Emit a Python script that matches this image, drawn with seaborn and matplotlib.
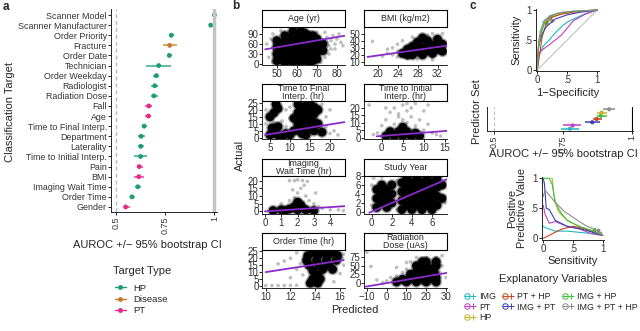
import matplotlib
matplotlib.use('Agg')
import matplotlib.pyplot as plt
from matplotlib.lines import Line2D
from matplotlib.legend_handler import HandlerTuple
import seaborn as sns
import numpy as np
import pandas as pd

W, H = 640, 331

# ---------------- panel a: single-target AUROC ----------------
targets = ['Scanner Model', 'Scanner Manufacturer', 'Order Priority', 'Fracture',
           'Order Date', 'Technician', 'Order Weekday', 'Radiologist', 'Radiation Dose',
           'Fall', 'Age', 'Time to Final Interp.', 'Department', 'Laterality',
           'Time to Initial Interp.', 'Pain', 'BMI', 'Imaging Wait Time', 'Order Time',
           'Gender']
target_type = ['HP', 'HP', 'HP', 'Disease', 'HP', 'HP', 'HP', 'HP', 'HP', 'PT', 'PT',
               'HP', 'HP', 'HP', 'HP', 'PT', 'PT', 'HP', 'HP', 'PT']
auroc = [1.0, 0.981, 0.781, 0.773, 0.771, 0.717, 0.705, 0.697, 0.693, 0.667, 0.665,
         0.643, 0.628, 0.626, 0.625, 0.618, 0.616, 0.611, 0.581, 0.549]
auroc_lo = [0.998, 0.978, 0.769, 0.739, 0.763, 0.653, 0.690, 0.680, 0.676, 0.650, 0.650,
            0.633, 0.611, 0.613, 0.592, 0.605, 0.592, 0.596, 0.571, 0.540]
auroc_hi = [1.0, 0.984, 0.793, 0.810, 0.785, 0.781, 0.720, 0.716, 0.712, 0.684, 0.680,
            0.658, 0.648, 0.642, 0.660, 0.636, 0.640, 0.628, 0.598, 0.570]
type_colors = {'HP': '#1B9E77', 'Disease': '#C47A2C', 'PT': '#E7298A'}

# ---------------- panel b: actual vs predicted ----------------
facet_titles = ['Age (yr)', 'BMI (kg/m2)', 'Time to Final\nInterp. (hr)',
                'Time to Initial\nInterp. (hr)', 'Imaging\nWait Time (hr)', 'Study Year',
                'Order Time (hr)', 'Radiation\nDose (uAs)']

age_core = [(50, 10), (50, 30), (50, 50), (50, 70), (54, 5), (54, 25), (54, 45), (54, 65),
            (54, 85), (58, 5), (58, 25), (58, 45), (58, 65), (58, 85), (58, 98), (62, 5),
            (62, 25), (62, 45), (62, 65), (62, 85), (62, 98), (66, 5), (66, 25), (66, 45),
            (66, 65), (66, 85), (70, 15), (70, 35), (70, 55), (70, 75), (73, 40), (73, 60),
            (52, 15), (52, 40), (52, 60), (56, 15), (56, 35), (56, 55), (56, 75), (60, 15),
            (60, 35), (60, 55), (60, 75), (60, 92), (64, 15), (64, 35), (64, 55), (64, 75),
            (64, 92), (68, 10), (68, 30), (68, 50), (68, 70), (68, 85)]
age_sparse = [(45, 60), (46, 20), (47, 75), (48, 90), (48, 5), (75, 80), (76, 55), (77, 70),
              (78, 85), (79, 60), (80, 75), (81, 90), (82, 65), (83, 55), (76, 30), (74, 95),
              (52, 100), (57, 105), (64, 102), (70, 95), (79, 45), (72, 5), (75, 65),
              (77, 45), (74, 20)]
bmi_core = [(25, 22), (26, 28), (27, 20), (27, 32), (28, 25), (28, 38), (29, 20), (29, 30),
            (30, 26), (30, 40), (31, 22), (31, 33), (32, 28), (32, 42), (33, 25), (33, 35),
            (26, 20), (29, 44), (27, 26), (28, 31), (30, 34), (31, 28), (32, 36), (29, 24)]
bmi_sparse = [(19, 39), (21, 18), (22, 22), (22, 28), (23, 20), (23, 30), (24, 25), (24, 35),
              (25, 40), (27, 45), (30, 48), (31, 50), (33, 50), (26, 15), (28, 14), (31, 13),
              (24, 17)]
final_core = [(5, 2), (6, 4), (7, 2), (5.5, 7), (7, 8), (6, 18), (7, 21), (6.5, 24), (5, 15),
              (11, 5), (12, 10), (12, 18), (13, 3), (13, 14), (13, 22), (14, 7), (14, 18),
              (15, 12), (15, 24), (16, 5), (16, 17), (17, 10), (17, 20), (14, 2), (18, 4),
              (12, 24), (10, 2), (9, 3), (8, 1), (11, 14), (12, 6), (13, 9), (14, 12),
              (14, 23), (15, 7), (15, 18), (16, 11), (16, 22), (13, 18)]
final_sparse = [(4, 10), (4, 20), (8, 12), (9, 20), (9, 8), (10, 22), (19, 8), (19, 15),
                (20, 3), (21, 5), (22, 2), (18, 24), (10, 14), (20, 20), (6, 11)]
initial_core = [(1, 1), (3, 1), (5, 1), (7, 1), (9, 1), (2, 4), (4, 4), (6, 4), (8, 3), (5, 7)]
initial_sparse = [(-3, 22), (-2, 2), (-1, 3), (0, 8), (1, 12), (2, 17), (3, 20), (3, 9),
                  (4, 14), (5, 22), (5, 12), (6, 18), (6, 10), (7, 20), (7, 14), (8, 8),
                  (9, 12), (10, 18), (10, 5), (11, 9), (12, 3), (13, 2), (14, 1), (8, 23),
                  (11, 22), (4, 16), (6, 23), (1, 20)]
wait_core = [(0.5, 0.5), (1, 1), (1.5, 1.5), (2, 1), (2.5, 1), (3, 0.5), (1.8, 3), (2.2, 4),
             (2, 6), (1.2, 0.3)]
wait_sparse = [(1.5, 20), (1.8, 20), (2, 20.5), (2.3, 20), (2.6, 19.5), (2.2, 15), (2, 12),
               (1.8, 9), (2.5, 10), (2.7, 7), (1.5, 7), (3, 5), (3.3, 3), (3.5, 2), (4, 1),
               (4.5, 1), (4.8, 0.5), (1, 5), (2.4, 17), (3.1, 12), (1.7, 14)]
year_core = [(0.5, 1), (0.5, 3), (0.5, 5), (1, 2), (1, 4), (1, 6), (1.5, 1), (1.5, 3),
             (1.5, 5), (2, 2), (2, 4), (2, 6), (3, 0.5), (3, 2.5), (3, 4.5), (3, 6.5),
             (3.5, 1.5), (3.5, 3.5), (3.5, 5.5), (3.5, 7.5), (4, 0.5), (4, 2.5), (4, 4.5),
             (4, 6.5), (4.5, 1.5), (4.5, 3.5), (4.5, 5.5), (4.5, 7.5), (5, 0.5), (5, 2.5),
             (5, 4.5), (5, 6.5), (5.5, 1.5), (5.5, 3.5), (5.5, 5.5), (5.5, 7.5), (6, 0.5),
             (6, 2.5), (6, 4.5), (6, 6.5), (6.5, 1.5), (6.5, 3.5), (6.5, 5.5), (6.5, 7.5),
             (7, 3), (7, 6)]
year_sparse = [(0, 1.5), (0, 6), (0.2, 7.5), (1, 7.8), (2.5, 7), (2.5, 0.5), (7.3, 2)]
order_core = [(13.6, 2), (13.8, 5), (14.2, 2), (14.2, 8), (13.8, 11), (14.6, 12), (13.5, 15),
              (14.3, 15), (15.1, 15), (13.3, 18.5), (14.1, 18.5), (14.9, 18.5), (15.7, 18.5),
              (13.4, 22), (14.2, 22), (15, 22), (15.8, 22), (13.8, 24.5), (14.6, 24.5),
              (15.4, 24.5), (15.4, 12), (14.4, 5)]
order_sparse = [(10, 0.3), (10.5, 0.3), (11, 0.3), (11.5, 0.3), (12, 0.3), (12.5, 0.5),
                (11, 16), (11.5, 18), (12, 20), (12.5, 12), (16.2, 20), (16.3, 15),
                (16.3, 23), (16, 9), (12.5, 24), (12.8, 16), (15.5, 3), (13, 8), (12, 6)]
dose_core = [(5, 2), (10, 2), (15, 2), (20, 2), (25, 2), (8, 10), (12, 12), (15, 18),
             (18, 10), (20, 20), (22, 12), (25, 15), (15, 30), (20, 35), (12, 25), (18, 28),
             (24, 30), (22, 40), (18, 45), (15, 50), (20, 50), (25, 50), (20, 62), (25, 62),
             (18, 62)]
dose_sparse = [(-10, 90), (-8, 48), (-5, 8), (0, 5), (2, 15), (5, 20), (8, 30), (10, 40),
               (5, 45), (12, 62), (15, 75), (20, 75), (25, 75), (28, 80), (30, 15), (27, 30),
               (10, 60), (28, 50), (-2, 0)]

# fitted line end points (predicted, actual)
fit_lines = [[(44.2, 44), (84, 85)], [(18, 17), (33.9, 33)], [(3.75, 2), (23.7, 11.3)],
             [(-1.2, 0.8), (15.5, 4.5)], [(0, 0), (4.9, 3.4)], [(-0.24, -0.16), (7.5, 7.3)],
             [(10, 10), (16.3, 18.7)], [(-10.6, -12), (30.5, 29)]]

facet_core = [age_core, bmi_core, final_core, initial_core, wait_core, year_core,
              order_core, dose_core]
facet_sparse = [age_sparse, bmi_sparse, final_sparse, initial_sparse, wait_sparse,
                year_sparse, order_sparse, dose_sparse]
facet_xticks = [[50, 60, 70, 80], [20, 24, 28, 32], [5, 10, 15, 20], [0, 5, 10, 15],
                [0, 1, 2, 3, 4], [0, 2, 4, 6], [10, 12, 14, 16], [-10, 0, 10, 20, 30]]
facet_yticks = [[0, 30, 60, 90], [10, 20, 30, 40, 50], [0, 5, 10, 15, 20, 25],
                [0, 5, 10, 15, 20], [0, 5, 10, 15, 20], [0, 2, 4, 6, 8],
                [0, 5, 10, 15, 20, 25], [0, 25, 50, 75]]
facet_xlim = [(42.6, 84), (17.3, 33.9), (3, 23.75), (-4.2, 15.5), (-0.18, 4.9),
              (-0.77, 7.5), (9.7, 16.4), (-11.5, 30.5)]
facet_ylim = [(-3, 111), (5.6, 59.4), (-0.9, 26.4), (-1, 24.7), (-1.7, 23), (-0.46, 8),
              (-1.5, 26), (-16, 97)]

# ---------------- panel c: predictor sets ----------------
pred_sets = ['IMG', 'PT', 'HP', 'PT + HP', 'IMG + PT', 'IMG + HP', 'IMG + PT + HP']
set_colors = {'IMG': '#1FB8BE', 'PT': '#C23FC2', 'HP': '#C7B42C', 'PT + HP': '#C9441F',
              'IMG + PT': '#3E3EB4', 'IMG + HP': '#37C23A', 'IMG + PT + HP': '#8C8C8C'}
# forest rows bottom -> top
forest_order = ['IMG', 'PT', 'IMG + PT', 'PT + HP', 'IMG + HP', 'HP', 'IMG + PT + HP']
set_auroc = [0.775, 0.785, 0.856, 0.872, 0.887, 0.890, 0.917]
set_lo = [0.744, 0.750, 0.830, 0.858, 0.872, 0.873, 0.896]
set_hi = [0.808, 0.815, 0.885, 0.890, 0.909, 0.909, 0.938]

roc_fpr = {
    'IMG': [0, 0.01, 0.05, 0.1, 0.2, 0.3, 0.4, 0.5, 0.65, 0.8, 1],
    'PT': [0, 0.01, 0.05, 0.1, 0.2, 0.3, 0.4, 0.5, 0.6, 0.8, 1],
    'HP': [0, 0.01, 0.05, 0.1, 0.2, 0.35, 0.6, 1],
    'PT + HP': [0, 0.03, 0.08, 0.15, 0.25, 0.4, 0.7, 1],
    'IMG + PT': [0, 0.02, 0.08, 0.15, 0.3, 0.5, 0.7, 1],
    'IMG + HP': [0, 0.02, 0.06, 0.12, 0.2, 0.35, 0.6, 1],
    'IMG + PT + HP': [0, 0.02, 0.05, 0.1, 0.15, 0.25, 0.4, 0.6, 1]}
roc_tpr = {
    'IMG': [0, 0.2, 0.3, 0.4, 0.5, 0.62, 0.72, 0.8, 0.87, 0.94, 1],
    'PT': [0, 0.25, 0.3, 0.35, 0.42, 0.5, 0.58, 0.7, 0.82, 0.93, 1],
    'HP': [0, 0.3, 0.6, 0.75, 0.87, 0.93, 0.97, 1],
    'PT + HP': [0, 0.2, 0.55, 0.78, 0.88, 0.93, 0.98, 1],
    'IMG + PT': [0, 0.4, 0.6, 0.72, 0.85, 0.92, 0.96, 1],
    'IMG + HP': [0, 0.35, 0.6, 0.78, 0.88, 0.95, 0.98, 1],
    'IMG + PT + HP': [0, 0.45, 0.65, 0.78, 0.85, 0.92, 0.96, 0.98, 1]}
ppv_sens = {
    'IMG': [0, 0.05, 0.2, 0.4, 0.6, 0.8, 1],
    'PT': [0, 0.03, 0.1, 0.2, 0.4, 0.6, 0.8, 1],
    'HP': [0.13, 0.15, 0.18, 0.25, 0.4, 0.6, 0.8, 1],
    'PT + HP': [0, 0.1, 0.3, 0.5, 0.7, 0.9, 1],
    'IMG + PT': [0, 0.02, 0.05, 0.1, 0.2, 0.4, 0.7, 1],
    'IMG + HP': [0, 0.1, 0.15, 0.2, 0.3, 0.4, 0.6, 0.85, 1],
    'IMG + PT + HP': [0, 0.03, 0.1, 0.2, 0.35, 0.5, 0.7, 0.9, 1]}
ppv_val = {
    'IMG': [0.2, 0.17, 0.12, 0.12, 0.1, 0.08, 0.05],
    'PT': [0.55, 0.4, 0.25, 0.28, 0.2, 0.16, 0.08, 0.05],
    'HP': [1, 1, 0.7, 0.45, 0.3, 0.2, 0.12, 0.05],
    'PT + HP': [0, 0.05, 0.15, 0.2, 0.16, 0.1, 0.05],
    'IMG + PT': [1, 0.9, 0.5, 0.48, 0.3, 0.2, 0.14, 0.05],
    'IMG + HP': [1, 1, 0.9, 0.6, 0.42, 0.3, 0.2, 0.12, 0.05],
    'IMG + PT + HP': [0.7, 0.8, 0.72, 0.6, 0.45, 0.35, 0.22, 0.13, 0.05]}
# operating points
roc_op_x = [0.12, 0.15, 0.18, 0.2, 0.22, 0.16, 0.25]
roc_op_y = [0.8, 0.83, 0.85, 0.87, 0.88, 0.78, 0.82]
ppv_op_x = [0.85, 0.88, 0.9, 0.92, 0.95, 0.87, 0.93]
ppv_op_y = [0.1, 0.12, 0.08, 0.11, 0.09, 0.14, 0.13]

# ---------------- style ----------------
sns.set_style('ticks')
plt.rcParams['font.family'] = ['Liberation Sans', 'DejaVu Sans']
plt.rcParams['axes.linewidth'] = 0.7
TICK = '#333333'


def px_axes(fig, l, t, r, b):
    return fig.add_axes([l / W, 1 - b / H, (r - l) / W, (b - t) / H])


def style_ax(ax, size=6.3):
    sns.despine(ax=ax)
    ax.tick_params(length=2, width=0.6, pad=1, labelsize=size, colors='black',
                   labelcolor=TICK)


fig = plt.figure(figsize=(W / 100, H / 100), dpi=100)

# ---- panel a
ax = px_axes(fig, 111, 9, 217, 212)
ypos = np.arange(len(targets))
df_a = pd.DataFrame({'y': ypos, 'auroc': auroc, 'type': target_type})
ax.axvline(0.5, color='#BBBBBB', ls=(0, (3, 2)), lw=1)
ax.axvline(1.0, color='#C4C4C4', lw=2.5)
for i in ypos:
    ax.hlines(i, auroc_lo[i], auroc_hi[i], color=type_colors[target_type[i]], lw=1.3, alpha=0.75)
sns.scatterplot(data=df_a, x='auroc', y='y', hue='type', palette=type_colors, s=12,
                edgecolor='none', legend=False, ax=ax)
ax.set_xlim(0.475, 1.013)
ax.set_ylim(19.5, -0.6)
ax.set_yticks(ypos)
ax.set_yticklabels(targets)
ax.set_xticks([0.5, 0.75, 1])
ax.set_xticklabels(['0.5', '0.75', '1'], rotation=90)
ax.set_xlabel('')
ax.set_ylabel('')
style_ax(ax, 6.4)
fig.text(10 / W, 1 - 112 / H, 'Classification Target', rotation=90, ha='center',
         va='center', fontsize=8)
fig.text(147 / W, 1 - 245 / H, 'AUROC +/\u2212 95% bootstrap CI', ha='center', va='center',
         fontsize=8)
fig.text(3 / W, 1 - 7 / H, 'a', fontsize=8.5, fontweight='bold', va='center')

fig.text(142 / W, 1 - 271 / H, 'Target Type', ha='center', va='center', fontsize=8)
h_a = [Line2D([], [], color=type_colors[t], marker='o', markersize=2.5, lw=1)
       for t in ['HP', 'Disease', 'PT']]
fig.legend(h_a, ['HP', 'Disease', 'PT'], loc='upper left',
           bbox_to_anchor=(108 / W, 1 - 277 / H), frameon=False, fontsize=6.8,
           handlelength=1.2, labelspacing=0.25, handletextpad=0.8, borderpad=0.2)

# ---- panel b
col_l = [262, 364]
row_t = [27, 101, 176, 250]
for k in range(8):
    r, c = divmod(k, 2)
    l, t = col_l[c], row_t[r]
    ax = px_axes(fig, l, t, l + 83, t + 38)
    core = pd.DataFrame(facet_core[k], columns=['pred', 'act'])
    sparse = pd.DataFrame(facet_sparse[k], columns=['pred', 'act'])
    sns.scatterplot(data=sparse, x='pred', y='act', color='black', alpha=0.25, s=7,
                    edgecolor='none', ax=ax)
    sns.scatterplot(data=core, x='pred', y='act', color='black', alpha=0.35, s=70,
                    edgecolor='none', ax=ax)
    sns.scatterplot(data=core, x='pred', y='act', color='black', alpha=1.0, s=40,
                    edgecolor='none', ax=ax)
    line = pd.DataFrame(fit_lines[k], columns=['pred', 'act'])
    sns.lineplot(data=line, x='pred', y='act', color='#8A2BC9', lw=1.3, ax=ax)
    ax.set_xlim(*facet_xlim[k])
    ax.set_ylim(*facet_ylim[k])
    ax.set_xticks(facet_xticks[k])
    ax.set_yticks(facet_yticks[k])
    ax.set_xlabel('')
    ax.set_ylabel('')
    style_ax(ax, 7)
    ax.tick_params(axis='y', pad=0.5)
    # strip
    sa = px_axes(fig, l, t - 17, l + 83, t)
    sa.set_xticks([])
    sa.set_yticks([])
    for s in sa.spines.values():
        s.set_visible(True)
        s.set_linewidth(0.8)
        s.set_color('black')
    sa.text(0.5, 0.5, facet_titles[k], ha='center', va='center', fontsize=6.4,
            linespacing=0.95, transform=sa.transAxes)

fig.text(240 / W, 1 - 155 / H, 'Actual', rotation=90, ha='center', va='center', fontsize=8)
fig.text(355 / W, 1 - 310 / H, 'Predicted', ha='center', va='center', fontsize=8)
fig.text(232 / W, 1 - 6 / H, 'b', fontsize=8.5, fontweight='bold', va='center')

# ---- panel c: ROC
fig.text(470 / W, 1 - 6 / H, 'c', fontsize=8.5, fontweight='bold', va='center')
ax = px_axes(fig, 536.1, 8.8, 598.5, 71.2)
sns.lineplot(x=[0, 1], y=[0, 1], color='#BBBBBB', lw=0.7, ax=ax)
for name in pred_sets:
    sns.lineplot(x=roc_fpr[name], y=roc_tpr[name], color=set_colors[name], lw=0.8,
                 sort=False, estimator=None, ax=ax)
sns.scatterplot(x=roc_op_x, y=roc_op_y, hue=pred_sets, palette=set_colors, marker='o',
                s=12, facecolor='none', linewidth=0.6, legend=False, ax=ax)
ax.set_xlim(-0.02, 1.02)
ax.set_ylim(-0.02, 1.02)
ax.set_xticks([0, 0.5, 1])
ax.set_xticklabels(['0', '.5', '1'])
ax.set_yticks([0, 0.5, 1])
ax.set_yticklabels(['0', '.5', '1'])
style_ax(ax, 7)
ax.set_xlabel('1\u2212Specificity', fontsize=8, labelpad=2)
ax.set_ylabel('Sensitivity', fontsize=8, labelpad=2)

# ---- panel c: forest
ax = px_axes(fig, 486.7, 107, 633, 131)
fpos = np.arange(len(forest_order))
ax.axvline(0.5, color='#BBBBBB', ls=(0, (3, 2)), lw=0.8)
ax.axvline(1.0, color='black', lw=0.8)
for i, name in enumerate(forest_order):
    ax.hlines(i, set_lo[i], set_hi[i], color=set_colors[name], lw=1.1)
sns.scatterplot(x=set_auroc, y=fpos, hue=forest_order, palette=set_colors, s=9,
                edgecolor='none', legend=False, ax=ax)
ax.set_xlim(0.4735, 1.0036)
ax.set_ylim(-0.7, 6.7)
ax.set_yticks([])
ax.set_xticks([0.5, 0.75, 1])
ax.set_xticklabels(['0.5', '0.75', '1'], rotation=90)
style_ax(ax, 6.4)
fig.text(477 / W, 1 - 112 / H, 'Predictor Set', rotation=90, ha='center', va='center',
         fontsize=8)
fig.text(563 / W, 1 - 154 / H, 'AUROC +/\u2212 95% bootstrap CI', ha='center', va='center',
         fontsize=8)

# ---- panel c: PPV
ax = px_axes(fig, 542.1, 177.1, 603.9, 239.5)
for name in pred_sets:
    sns.lineplot(x=ppv_sens[name], y=ppv_val[name], color=set_colors[name], lw=0.8,
                 sort=False, estimator=None, ax=ax)
sns.scatterplot(x=ppv_op_x, y=ppv_op_y, hue=pred_sets, palette=set_colors, marker='o',
                s=12, facecolor='none', linewidth=0.6, legend=False, ax=ax)
ax.set_xlim(-0.02, 1.02)
ax.set_ylim(-0.02, 1.02)
ax.set_xticks([0, 0.5, 1])
ax.set_xticklabels(['0', '.5', '1'])
ax.set_yticks([0, 0.5, 1])
ax.set_yticklabels(['0', '.5', '1'])
style_ax(ax, 7)
ax.set_xlabel('Sensitivity', fontsize=8, labelpad=2)
ax.set_ylabel('Positive\nPredictive Value', fontsize=8, labelpad=2, linespacing=0.95)

fig.text(553 / W, 1 - 279 / H, 'Explanatory Variables', ha='center', va='center', fontsize=8)
h_c = [(Line2D([], [], color=set_colors[n], marker='o', markersize=4, mfc='none', lw=0.8,
               mew=0.7),
        Line2D([], [], color=set_colors[n], marker='+', markersize=4, lw=0, mew=0.7))
       for n in pred_sets]
fig.legend(h_c, pred_sets, loc='upper center',
           bbox_to_anchor=(551 / W, 1 - 286 / H), ncol=3, frameon=False, fontsize=6.4,
           handlelength=1.2, labelspacing=0.15, columnspacing=0.8,
           handletextpad=0.4, borderpad=0.2,
           handler_map={tuple: HandlerTuple(ndivide=None)})

fig.savefig('out.png', dpi=100)
